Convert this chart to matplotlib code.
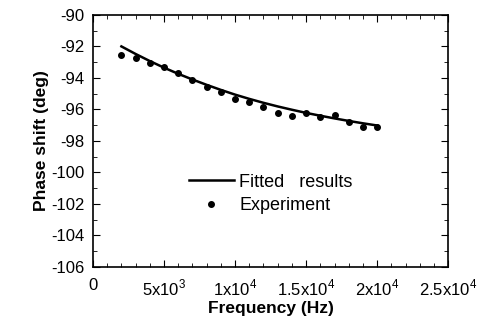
import matplotlib.pyplot as plt
from matplotlib.ticker import MultipleLocator, FixedLocator

# measured phase shift vs frequency
freq = [2000, 3000, 4000, 5000, 6000, 7000, 8000, 9000, 10000, 11000,
        12000, 13000, 14000, 15000, 16000, 17000, 18000, 19000, 20000]
phase_exp = [-92.54, -92.75, -93.03, -93.28, -93.70, -94.13, -94.55, -94.87, -95.36, -95.50,
             -95.86, -96.24, -96.41, -96.24, -96.50, -96.35, -96.77, -97.09, -97.11]

# fitted curve
fit_freq = [2000, 3000, 4000, 5000, 6000, 7000, 8000, 9000, 10000, 11000,
            12000, 13000, 14000, 15000, 16000, 17000, 18000, 19000, 20000]
phase_fit = [-92.00, -92.48, -92.93, -93.35, -93.74, -94.10, -94.44, -94.76, -95.06, -95.33,
             -95.58, -95.81, -96.02, -96.22, -96.40, -96.57, -96.73, -96.88, -97.02]

xticks = [0, 5000, 10000, 15000, 20000, 25000]
xticklabels = ['0', '5x10$^{3}$', '1x10$^{4}$', '1.5x10$^{4}$', '2x10$^{4}$', '2.5x10$^{4}$']
yticks = [-90, -92, -94, -96, -98, -100, -102, -104, -106]

plt.rcParams['font.family'] = 'Liberation Sans'
plt.rcParams['mathtext.fontset'] = 'custom'
plt.rcParams['mathtext.rm'] = 'Liberation Sans'
plt.rcParams['axes.unicode_minus'] = False

fig = plt.figure(figsize=(4.92, 3.24), dpi=100)
ax = fig.add_axes([0.189, 0.176, 0.722, 0.778])

ax.plot(fit_freq, phase_fit, color='black', lw=1.8, label='Fitted   results')
ax.plot(freq, phase_exp, 'o', color='black', ms=4, label='Experiment')

ax.set_xlim(0, 25000)
ax.set_ylim(-106, -90)
ax.xaxis.set_major_locator(FixedLocator(xticks))
ax.set_xticklabels(xticklabels)
ax.xaxis.set_minor_locator(MultipleLocator(1000))
ax.set_yticks(yticks)
ax.yaxis.set_minor_locator(MultipleLocator(1))
ax.tick_params(which='both', direction='in', top=True, right=True, labelsize=12)
ax.tick_params(axis='x', pad=8)
ax.tick_params(axis='y', pad=6)
ax.tick_params(which='major', length=5)
ax.tick_params(which='minor', length=3)
for s in ax.spines.values():
    s.set_linewidth(1.2)

ax.set_xlabel('Frequency (Hz)', fontsize=12.5, fontweight='bold', labelpad=2)
ax.set_ylabel('Phase shift (deg)', fontsize=12.5, fontweight='bold', labelpad=2)

ax.legend(loc='center', bbox_to_anchor=(0.5, 0.29), frameon=False, fontsize=13,
          handlelength=2.5, handletextpad=0.3, labelspacing=0.35)

fig.savefig('out.png', dpi=100)
